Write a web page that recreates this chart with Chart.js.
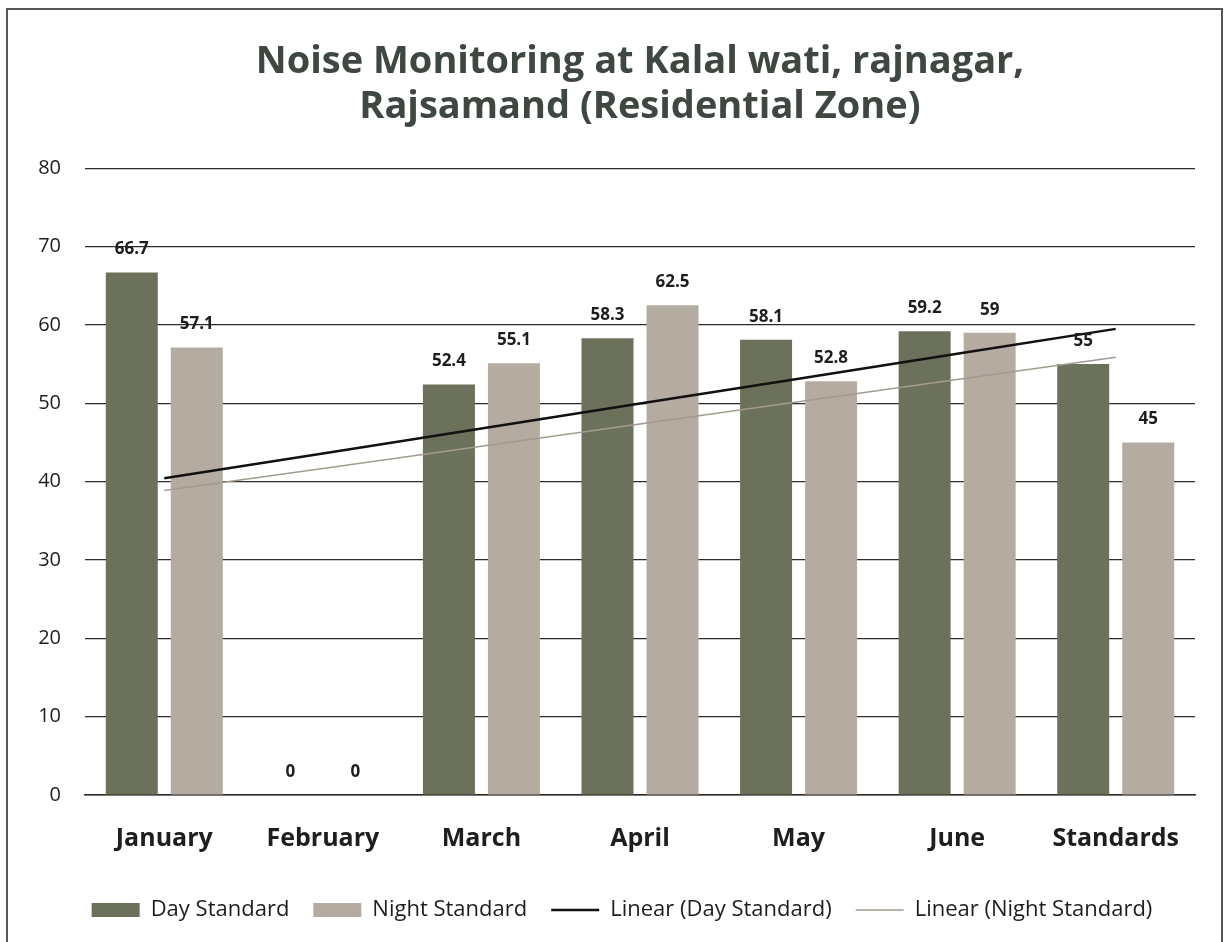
<!DOCTYPE html>
<html>
<head>
<meta charset="utf-8">
<script src="https://cdn.jsdelivr.net/npm/chart.js@4.4.1/dist/chart.umd.min.js"></script>
<style>
  html, body { margin: 0; padding: 0; background: #ffffff; }
  #wrap { position: relative; width: 1225px; height: 942px; overflow: hidden; }
  #frame { position: absolute; left: 6px; top: 8px; width: 1217px; height: 960px; border: 2px solid #5a5456; box-sizing: border-box; pointer-events: none; }
  canvas { position: absolute; left: 0; top: 0; }
</style>
</head>
<body>
<div id="wrap">
  <canvas id="c" width="1225" height="942"></canvas>
  <div id="frame"></div>
</div>
<script>
const categories = ["January", "February", "March", "April", "May", "June", "Standards"];
const dayValues = [66.7, 0, 52.4, 58.3, 58.1, 59.2, 55];
const nightValues = [57.1, 0, 55.1, 62.5, 52.8, 59, 45];
const yTicks = [0, 10, 20, 30, 40, 50, 60, 70, 80];
const titleLines = ["Noise Monitoring at Kalal wati, rajnagar,", "Rajsamand (Residential Zone)"];

// Excel-style linear trendline (least squares on x = 1..n)
function linearTrend(values) {
  const n = values.length;
  let sx = 0, sy = 0, sxy = 0, sxx = 0;
  values.forEach((v, i) => { const x = i + 1; sx += x; sy += v; sxy += x * v; sxx += x * x; });
  const slope = (n * sxy - sx * sy) / (n * sxx - sx * sx);
  const intercept = (sy - slope * sx) / n;
  return values.map((v, i) => intercept + slope * (i + 1));
}

const FONT = "'Open Sans', Lato, 'DejaVu Sans', sans-serif";

const dataLabels = {
  id: 'dataLabels',
  afterLayout(chart) {
    // centre the title and legend a little to the right, as in the original
    if (chart.titleBlock) { chart.titleBlock.left += 30; chart.titleBlock.right += 30; }
    if (chart.legend) {
      chart.legend.left += 12; chart.legend.right += 12;
      chart.legend.legendHitBoxes.forEach(h => { h.left += 12; });
    }
  },
  afterDatasetsDraw(chart) {
    const ctx = chart.ctx;
    ctx.save();
    ctx.font = "bold 17px " + FONT;
    ctx.fillStyle = '#1e1e1e';
    ctx.textAlign = 'center';
    ctx.textBaseline = 'middle';
    [0, 1].forEach(di => {
      const meta = chart.getDatasetMeta(di);
      const vals = chart.data.datasets[di].data;
      meta.data.forEach((el, i) => {
        ctx.fillText(String(vals[i]), el.x, el.y - 23);
      });
    });
    ctx.restore();
  }
};

new Chart(document.getElementById('c'), {
  data: {
    labels: categories,
    datasets: [
      { type: 'bar', label: 'Day Standard', data: dayValues, backgroundColor: '#6c715b', borderWidth: 0, order: 2, pointStyle: 'rect',
        categoryPercentage: 0.82, barPercentage: 0.8 },
      { type: 'bar', label: 'Night Standard', data: nightValues, backgroundColor: '#b5aca1', borderWidth: 0, order: 2, pointStyle: 'rect',
        categoryPercentage: 0.82, barPercentage: 0.8 },
      { type: 'line', label: 'Linear (Day Standard)', data: linearTrend(dayValues), borderColor: '#111111', borderWidth: 2.5,
        pointRadius: 0, pointStyle: 'line', fill: false, order: 0, tension: 0 },
      { type: 'line', label: 'Linear (Night Standard)', data: linearTrend(nightValues), borderColor: '#a39b90', borderWidth: 1.5,
        pointRadius: 0, pointStyle: 'line', fill: false, order: 0, tension: 0 }
    ]
  },
  options: {
    responsive: false,
    devicePixelRatio: 1,
    animation: false,
    layout: { padding: { left: 25, right: 30, top: 0, bottom: 11 } },
    plugins: {
      tooltip: { enabled: false },
      title: {
        display: true,
        text: titleLines,
        color: '#3f4741',
        font: { family: FONT, size: 38, weight: 'bold', lineHeight: 1.2 },
        padding: { top: 39, bottom: 38 }
      },
      legend: {
        position: 'bottom',
        labels: {
          usePointStyle: true,
          pointStyleWidth: 48,
          boxHeight: 14,
          padding: 24,
          color: '#1e1e1e',
          font: { family: FONT, size: 22 },
          sort: (a, b) => a.datasetIndex - b.datasetIndex
        }
      }
    },
    scales: {
      x: {
        grid: { display: false, drawTicks: false },
        border: { display: true, color: '#2b2728', width: 1.5 },
        ticks: { color: '#1e1e1e', font: { family: FONT, size: 25, weight: 'bold' }, padding: 29 },
        afterFit: (s) => { s.height = 80; }
      },
      y: {
        min: 0, max: 80,
        afterBuildTicks: (s) => { s.ticks = yTicks.map(v => ({ value: v })); },
        grid: { color: '#2f2a2c', lineWidth: 1.2, drawTicks: false },
        border: { display: false },
        ticks: { color: '#1e1e1e', font: { family: FONT, size: 20 }, padding: 24 },
        afterFit: (s) => { s.width = 60; }
      }
    }
  },
  plugins: [dataLabels]
});
</script>
</body>
</html>
